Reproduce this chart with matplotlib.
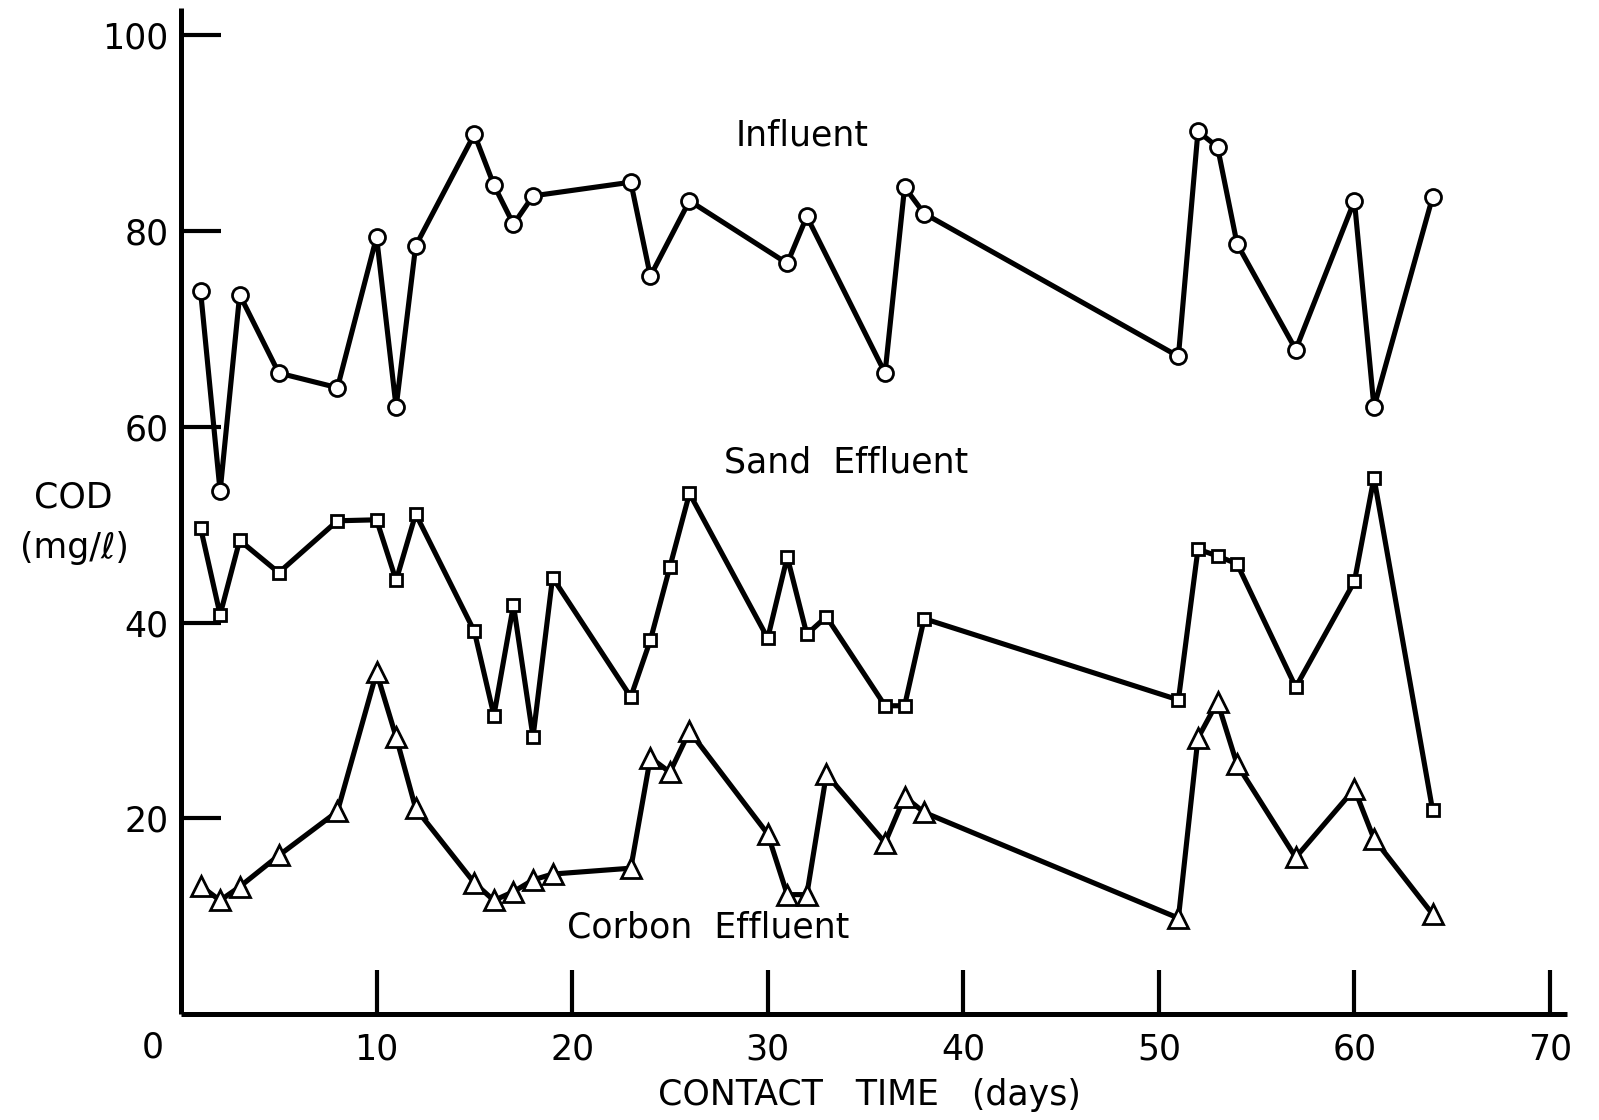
import matplotlib
matplotlib.use('Agg')
import matplotlib.pyplot as plt

# data (hari, COD mg/l)
influent_days = [1, 2, 3, 5, 8, 10, 11, 12, 15, 16, 17, 18, 23, 24, 26, 31, 32,
                 36, 37, 38, 51, 52, 53, 54, 57, 60, 61, 64]
influent_cod = [73.9, 53.4, 73.5, 65.5, 64.0, 79.4, 62.0, 78.5, 89.9, 84.7, 80.7,
                83.6, 85.0, 75.4, 83.1, 76.7, 81.5, 65.5, 84.5, 81.8, 67.2, 90.2,
                88.6, 78.7, 67.9, 83.1, 62.0, 83.5]

effluent_days = [1, 2, 3, 5, 8, 10, 11, 12, 15, 16, 17, 18, 19, 23, 24, 25, 26, 30,
                 31, 32, 33, 36, 37, 38, 51, 52, 53, 54, 57, 60, 61, 64]
sand_cod = [49.7, 40.8, 48.4, 45.1, 50.4, 50.5, 44.3, 51.1, 39.1, 30.5, 41.8, 28.3,
            44.6, 32.4, 38.2, 45.7, 53.2, 38.4, 46.7, 38.8, 40.6, 31.5, 31.5, 40.4,
            32.1, 47.5, 46.8, 46.0, 33.4, 44.2, 54.8, 20.8]
carbon_cod = [13.1, 11.6, 13.0, 16.2, 20.7, 34.9, 28.3, 21.0, 13.4, 11.6, 12.5, 13.7,
              14.3, 14.9, 26.2, 24.7, 28.9, 18.4, 12.2, 12.2, 24.5, 17.5, 22.2, 20.6,
              9.8, 28.2, 31.9, 25.5, 16.0, 23.0, 17.9, 10.2]

x_ticks = [10, 20, 30, 40, 50, 60, 70]
y_ticks = [20, 40, 60, 80, 100]

W, H = 1599, 1120
fig = plt.figure(figsize=(W / 100, H / 100), dpi=100)
# posisi sumbu dalam piksel: kiri 181, kanan 1567, bawah 1014, atas 8
ax = fig.add_axes([181 / W, 1 - 1014 / H, (1567 - 181) / W, (1014 - 8) / H])
ax.set_xlim(0, 70.87)
ax.set_ylim(0, 102.8)

lw = 3.7
ax.plot(influent_days, influent_cod, color='black', lw=lw, marker='o', ms=11.5,
        mfc='white', mec='black', mew=2.0, zorder=3)
ax.plot(effluent_days, sand_cod, color='black', lw=lw, marker='s', ms=8.5,
        mfc='white', mec='black', mew=2.0, zorder=3)
ax.plot(effluent_days, carbon_cod, color='black', lw=lw, marker='^', ms=14,
        mfc='white', mec='black', mew=2.0, zorder=3)

# sumbu gaya gambar teknik
for s in ['top', 'right']:
    ax.spines[s].set_visible(False)
for s in ['left', 'bottom']:
    ax.spines[s].set_linewidth(3.6)
    ax.spines[s].set_capstyle('butt')

fs = 25
ax.set_xticks(x_ticks)
ax.set_xticklabels([str(t) for t in x_ticks])
ax.set_yticks(y_ticks)
ax.set_yticklabels([str(t) for t in y_ticks])
ax.tick_params(axis='x', direction='in', length=32, width=3, pad=13, labelsize=fs)
ax.tick_params(axis='y', direction='in', length=29, width=3, pad=9, labelsize=fs)

# label "0" digeser ke kiri seperti aslinya
fig.text(153 / W, 1 - 1057 / H, '0', ha='center', va='baseline', fontsize=fs)

# keterangan tiap seri (posisi baseline)
fig.text(802 / W, 1 - 145 / H, 'Influent', ha='center', va='baseline', fontsize=fs)
fig.text(846 / W, 1 - 473 / H, 'Sand  Effluent', ha='center', va='baseline', fontsize=fs)
fig.text(708 / W, 1 - 938 / H, 'Corbon  Effluent', ha='center', va='baseline', fontsize=fs)

fig.text(73 / W, 1 - 508 / H, 'COD', ha='center', va='baseline', fontsize=fs)
fig.text(74 / W, 1 - 558 / H, '(mg/\u2113)', ha='center', va='baseline', fontsize=fs)
fig.text(869 / W, 1 - 1105 / H, 'CONTACT   TIME   (days)', ha='center', va='baseline',
         fontsize=fs)

plt.savefig('out.png', dpi=100)
